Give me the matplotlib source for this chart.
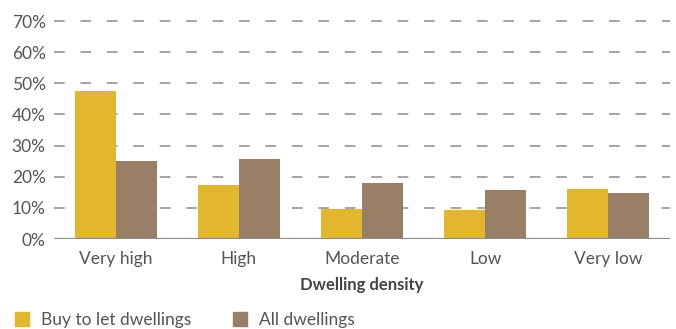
import matplotlib
matplotlib.use("Agg")
import matplotlib.pyplot as plt
import numpy as np
from matplotlib.patches import Rectangle

categories = ["Very high", "High", "Moderate", "Low", "Very low"]
buy_to_let = [47.6, 17.2, 9.6, 9.3, 16.1]
all_dwellings = [25.0, 25.8, 18.1, 15.8, 14.7]
y_ticks = [0, 10, 20, 30, 40, 50, 60, 70]
series_names = ["Buy to let dwellings", "All dwellings"]

YELLOW = "#E2B72B"
BROWN = "#9A7F67"
TEXT = "#555555"
GRID = "#8c8c8c"

plt.rcParams["font.family"] = ["Lato", "DejaVu Sans"]

W, H = 676, 329
fig = plt.figure(figsize=(W / 100, H / 100), dpi=100)
ax = fig.add_axes([54 / W, 1 - 239 / H, (670 - 54) / W, (239 - 21) / H])

x = np.arange(len(categories))
bw = 1 / 3
ax.bar(x - bw / 2, buy_to_let, width=bw, color=YELLOW, zorder=3)
ax.bar(x + bw / 2, all_dwellings, width=bw, color=BROWN, zorder=3)

ax.set_xlim(-0.5, len(categories) - 0.5)
ax.set_ylim(0, 70)

# dashed gridlines, drawn behind the bars
for t in y_ticks[1:]:
    ax.axhline(t, color=GRID, lw=1.1, dashes=(7, 10.3), zorder=1, clip_on=False)
ax.axhline(0, color=GRID, lw=1.6, zorder=4)

ax.set_yticks(y_ticks)
ax.set_yticklabels([f"{t}%" for t in y_ticks])
ax.set_xticks(x)
ax.set_xticklabels(categories)
ax.tick_params(axis="y", length=0, pad=6, labelsize=12.5, labelcolor=TEXT)
ax.tick_params(axis="x", length=0, pad=8.5, labelsize=12.5, labelcolor=TEXT)
for s in ax.spines.values():
    s.set_visible(False)

ax.set_xlabel("Dwelling density", fontsize=12, fontweight="bold", color="#444444", labelpad=7)

# legend row along the bottom edge
for (lx, tx), name, col in zip([(15, 41), (233, 259)], series_names, [YELLOW, BROWN]):
    fig.patches.append(Rectangle((lx / W, 1 - 326 / H), 14 / W, 14 / H,
                                 transform=fig.transFigure, color=col))
    fig.text(tx / W, 1 - 320 / H, name, fontsize=12.5, color=TEXT,
             va="center", ha="left")

fig.savefig("out.png", dpi=100)
